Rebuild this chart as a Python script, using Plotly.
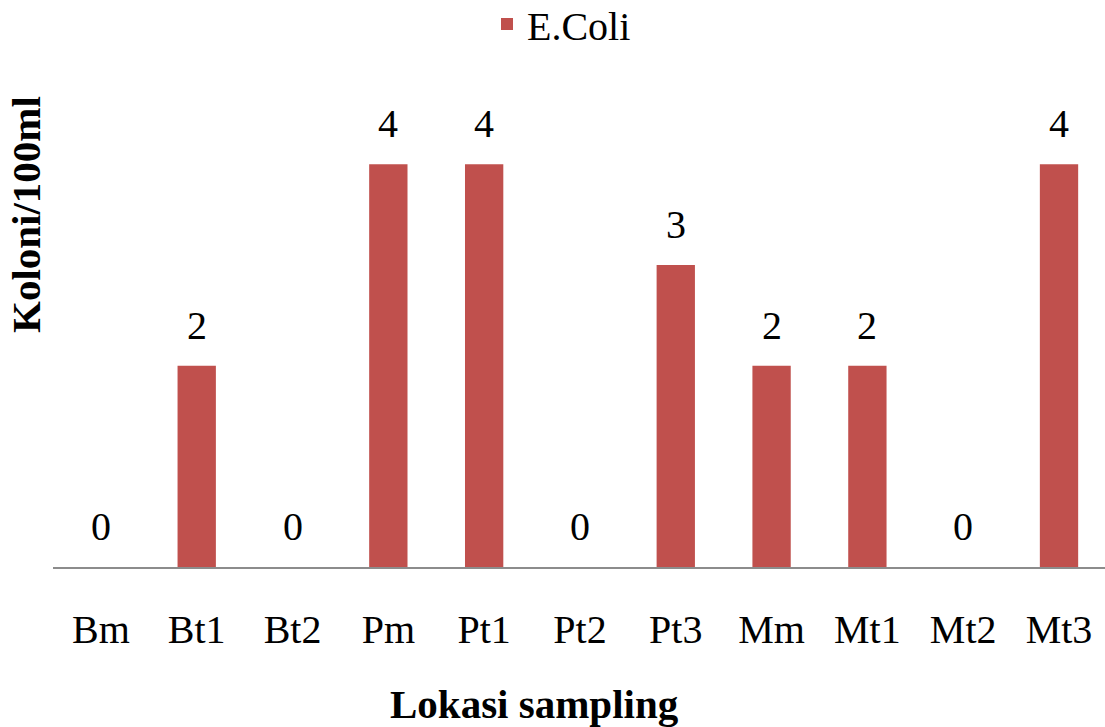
import plotly.graph_objects as go

categories = ["Bm", "Bt1", "Bt2", "Pm", "Pt1", "Pt2", "Pt3", "Mm", "Mt1", "Mt2", "Mt3"]
ecoli = [0, 2, 0, 4, 4, 0, 3, 2, 2, 0, 4]
series_name = "E.Coli"

FONT = "Liberation Serif"
BAR_COLOR = "#C0504D"

W, H = 1105, 727
L, R, T, B = 53, 0, 114, 160

fig = go.Figure()
fig.add_trace(go.Bar(
    x=categories, y=ecoli, name=series_name,
    marker=dict(color=BAR_COLOR, line=dict(width=0)),
    width=0.40, showlegend=True,
))

for c, v in zip(categories, ecoli):
    fig.add_annotation(x=c, y=v, text=str(v), showarrow=False,
                       yanchor="bottom", yshift=16,
                       font=dict(family=FONT, size=40, color="black"))

plot_w = W - L - R
plot_h = H - T - B
fig.add_annotation(xref="paper", yref="paper",
                   x=(534 - L) / plot_w, y=-(704 - (H - B)) / plot_h,
                   text="<b>Lokasi sampling</b>", showarrow=False,
                   xanchor="center", yanchor="middle",
                   font=dict(family=FONT, size=41, color="black"))
fig.add_annotation(xref="paper", yref="paper",
                   x=(26 - L) / plot_w, y=((H - B) - 215) / plot_h,
                   text="<b>Koloni/100ml</b>", showarrow=False, textangle=-90,
                   xanchor="center", yanchor="middle",
                   font=dict(family=FONT, size=41, color="black"))

fig.update_layout(
    width=W, height=H,
    margin=dict(l=L, r=R, t=T, b=B, autoexpand=False),
    paper_bgcolor="white", plot_bgcolor="white",
    font=dict(family=FONT, size=40, color="black"),
    bargap=0.6,
    legend=dict(orientation="h", x=(487 - L) / plot_w, xanchor="left",
                y=((H - B) - 24) / plot_h, yanchor="middle",
                font=dict(family=FONT, size=40, color="black"),
                bgcolor="rgba(0,0,0,0)"),
    xaxis=dict(range=[-0.5, 10.48], showgrid=False, zeroline=False,
               showline=True, linecolor="#8c8c8c", linewidth=1.5,
               ticks="", tickfont=dict(family=FONT, size=40, color="black"),
               ticklabelstandoff=26),
    yaxis=dict(range=[0, 4.5], showgrid=False, zeroline=False,
               showline=False, showticklabels=False, ticks=""),
)

fig.write_html("out.html", config={"displayModeBar": False},
               post_script="document.body.style.margin='0';document.body.style.padding='0';")
